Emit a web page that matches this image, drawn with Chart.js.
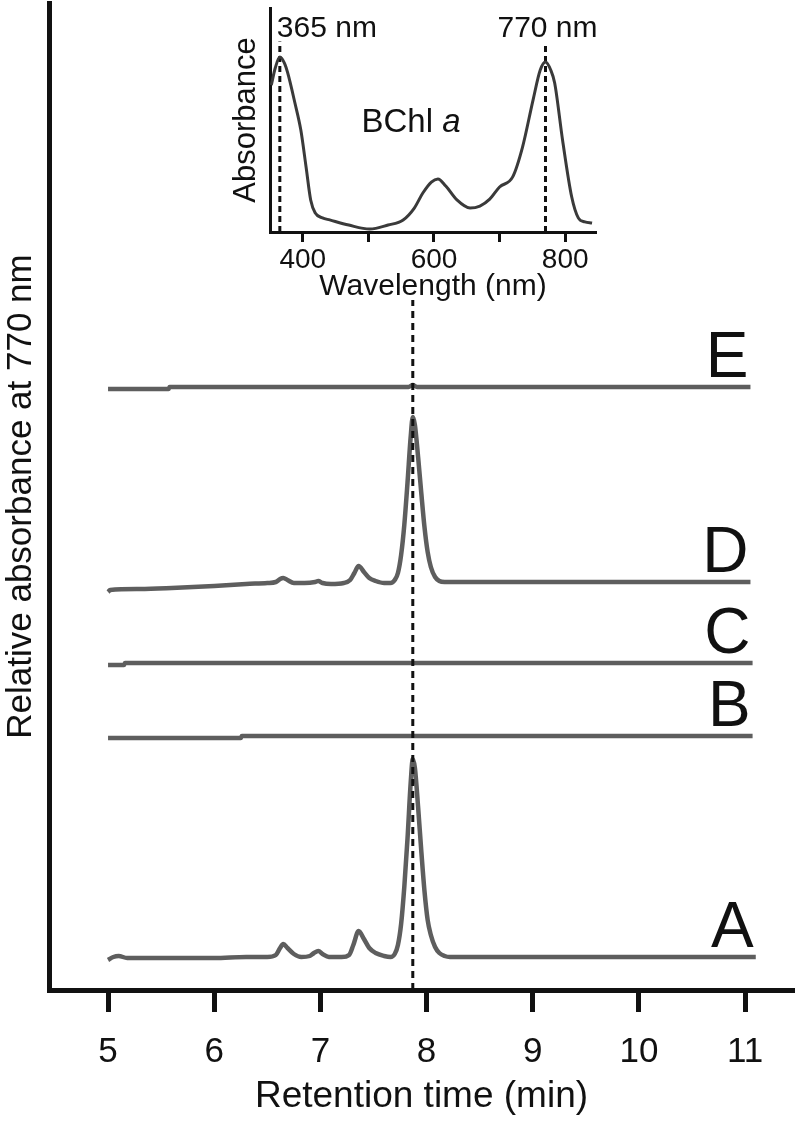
<!DOCTYPE html>
<html>
<head>
<meta charset="utf-8">
<script src="https://cdn.jsdelivr.net/npm/chart.js@4.4.1/dist/chart.umd.min.js"></script>
<style>
  html, body { margin: 0; padding: 0; background: #fff; }
  #wrap { position: relative; width: 800px; height: 1121px; }
  #main { position: absolute; left: 0; top: 0; }
  #inset { position: absolute; left: 200px; top: 0; }
</style>
</head>
<body>
<div id="wrap">
  <canvas id="main" width="800" height="1121"></canvas>
  <canvas id="inset" width="420" height="310"></canvas>
</div>
<script>
// HPLC traces, relative absorbance at 770 nm (arbitrary units)
const timeTicks = [5, 6, 7, 8, 9, 10, 11];
const peakTime = 7.87;

const timeA = [5.0, 5.05, 5.1, 5.18, 5.6, 6.0, 6.3, 6.5, 6.58, 6.62, 6.65, 6.69, 6.75, 6.82, 6.9, 6.94, 6.98, 7.02, 7.08, 7.2,
  7.27, 7.31, 7.36, 7.41, 7.46, 7.52, 7.6, 7.66, 7.7, 7.73, 7.76, 7.79, 7.82, 7.85, 7.87, 7.89, 7.92, 7.95, 7.98, 8.01,
  8.04, 8.08, 8.12, 8.17, 8.22, 8.5, 9.5, 10.5, 11.1];
const absA = [30, 33, 34, 32, 32, 32, 33, 33, 35, 42, 46, 42, 36, 33, 34, 37, 39, 36, 33, 33,
  35, 45, 59, 51, 42, 37, 34, 33, 36, 45, 66, 103, 151, 207, 231, 222, 183, 139, 99, 70,
  55, 43, 37, 34, 33, 33, 33, 33, 33];

const timeB = [5.0, 6.25, 6.26, 11.07];
const absB = [252, 252, 254, 254];

const timeC = [5.0, 5.15, 5.16, 11.07];
const absC = [325, 325, 327, 327];

const timeD = [5.0, 5.02, 5.3, 5.6, 6.0, 6.3, 6.5, 6.58, 6.62, 6.65, 6.69, 6.75, 6.85, 6.95, 6.98, 7.02, 7.1, 7.22,
  7.28, 7.32, 7.36, 7.41, 7.46, 7.52, 7.6, 7.66, 7.7, 7.73, 7.76, 7.79, 7.82, 7.85, 7.87, 7.89, 7.92, 7.95, 7.98,
  8.01, 8.04, 8.08, 8.12, 8.17, 8.22, 8.5, 9.5, 10.5, 11.05];
const absD = [398, 400, 401, 402, 404, 406, 407, 408, 411, 412, 410, 407, 407, 408, 409, 407, 406, 407,
  410, 417, 424, 418, 412, 409, 407, 407, 410, 417, 435, 465, 507, 553, 573, 565, 533, 497, 463,
  438, 423, 413, 409, 408, 408, 408, 408, 408, 408];

const timeE = [5.0, 5.57, 5.58, 7.83, 7.87, 7.91, 11.05];
const absE = [601, 601, 603, 603, 605, 603, 603];

// inset: BChl a absorption spectrum
const waveNm = [352, 358, 365, 372, 377, 388, 397, 405, 412, 419, 430, 441, 470, 502, 530, 553, 570, 583, 596,
  606, 618, 635, 655, 670, 685, 700, 720, 735, 751, 762, 770, 778, 784, 796, 810, 820, 830, 841];
const absSpec = [0.656, 0.732, 0.781, 0.754, 0.710, 0.576, 0.455, 0.290, 0.143, 0.085, 0.063, 0.054, 0.031, 0.013,
  0.031, 0.054, 0.107, 0.174, 0.223, 0.237, 0.205, 0.143, 0.107, 0.116, 0.147, 0.201, 0.246, 0.379, 0.589, 0.723,
  0.759, 0.723, 0.665, 0.411, 0.156, 0.063, 0.045, 0.040];
const waveTicks = [400, 500, 600, 700, 800];
const waveLabels = [400, 600, 800];
const markerNm = [365, 770];
const markerText = ['365 nm', '770 nm'];

const fam = "'Liberation Sans', Arial, Helvetica, sans-serif";
const ink = '#111';
const traceColor = '#5e5e5e';
Chart.defaults.color = ink;

function pts(xs, ys) {
  return xs.map((x, i) => ({x: x, y: ys[i]}));
}

function trace(name, xs, ys) {
  return {
    traceName: name,
    data: pts(xs, ys),
    borderColor: traceColor,
    borderWidth: 4.5,
    pointRadius: 0,
    cubicInterpolationMode: 'monotone',
    order: 1
  };
}

// letter next to the right end of each trace
const traceLabels = {
  id: 'traceLabels',
  afterDatasetsDraw(chart) {
    const ctx = chart.ctx;
    ctx.save();
    ctx.font = '64px ' + fam;
    ctx.fillStyle = ink;
    ctx.textAlign = 'right';
    ctx.textBaseline = 'alphabetic';
    chart.data.datasets.forEach((ds, i) => {
      if (!ds.traceName) return;
      const els = chart.getDatasetMeta(i).data;
      const last = els[els.length - 1];
      ctx.fillText(ds.traceName, last.x - 2, last.y - 10);
    });
    ctx.restore();
  }
};

new Chart(document.getElementById('main'), {
  type: 'line',
  data: {
    datasets: [
      {
        data: [{x: peakTime, y: 0}, {x: peakTime, y: 690}],
        borderColor: ink, borderWidth: 3, borderDash: [7, 5], pointRadius: 0, order: 0
      },
      trace('A', timeA, absA),
      trace('B', timeB, absB),
      trace('C', timeC, absC),
      trace('D', timeD, absD),
      trace('E', timeE, absE)
    ]
  },
  options: {
    responsive: false,
    animation: false,
    devicePixelRatio: 1,
    layout: {padding: {top: 3, right: 6, bottom: 0, left: 0}},
    plugins: {legend: {display: false}, tooltip: {enabled: false}},
    scales: {
      x: {
        type: 'linear', min: 4.444, max: 11.46,
        afterBuildTicks: s => { s.ticks = timeTicks.map(v => ({value: v})); },
        afterFit: s => { s.height = 131; },
        grid: {display: true, drawOnChartArea: false, drawTicks: true, tickLength: 22, tickWidth: 5, tickColor: ink},
        border: {display: true, width: 5, color: ink},
        ticks: {font: {family: fam, size: 35}, padding: 19, maxRotation: 0, color: ink},
        title: {display: true, text: 'Retention time (min)', font: {family: fam, size: 37}, color: ink,
          padding: {top: 0, bottom: 2}}
      },
      y: {
        min: 0, max: 987,
        afterFit: s => { s.width = 49; },
        grid: {display: false},
        border: {display: true, width: 5, color: ink},
        ticks: {display: false},
        title: {display: true, text: 'Relative absorbance at 770 nm', font: {family: fam, size: 35}, color: ink,
          padding: {top: 0, bottom: 0}}
      }
    }
  },
  plugins: [traceLabels]
});

// inset texts: marker labels and compound name
const insetText = {
  id: 'insetText',
  afterDatasetsDraw(chart) {
    const ctx = chart.ctx;
    const xs = chart.scales.x, ys = chart.scales.y;
    const top = chart.chartArea.top;
    ctx.save();
    ctx.fillStyle = ink;
    ctx.textBaseline = 'alphabetic';
    ctx.font = '30px ' + fam;
    ctx.textAlign = 'left';
    ctx.fillText(markerText[0], xs.getPixelForValue(markerNm[0]) - 3, top + 29);
    ctx.textAlign = 'center';
    ctx.fillText(markerText[1], xs.getPixelForValue(markerNm[1]) + 2, top + 29);

    const cx = xs.getPixelForValue(565), by = ys.getPixelForValue(0.446);
    ctx.font = '33px ' + fam;
    const w1 = ctx.measureText('BChl ').width;
    ctx.font = 'italic 33px ' + fam;
    const w2 = ctx.measureText('a').width;
    const x0 = cx - (w1 + w2) / 2;
    ctx.textAlign = 'left';
    ctx.font = '33px ' + fam;
    ctx.fillText('BChl ', x0, by);
    ctx.font = 'italic 33px ' + fam;
    ctx.fillText('a', x0 + w1, by);
    ctx.restore();
  }
};

new Chart(document.getElementById('inset'), {
  type: 'line',
  data: {
    datasets: [
      {
        data: pts(waveNm, absSpec),
        borderColor: '#3a3a3a', borderWidth: 3, pointRadius: 0, cubicInterpolationMode: 'monotone'
      },
      {
        data: [{x: markerNm[0], y: 0}, {x: markerNm[0], y: 0.85}],
        borderColor: ink, borderWidth: 3, borderDash: [6, 4], pointRadius: 0
      },
      {
        data: [{x: markerNm[1], y: 0}, {x: markerNm[1], y: 0.83}],
        borderColor: ink, borderWidth: 3, borderDash: [6, 4], pointRadius: 0
      }
    ]
  },
  options: {
    responsive: false,
    animation: false,
    devicePixelRatio: 1,
    layout: {padding: {top: 8, right: 24, bottom: 0, left: 0}},
    plugins: {legend: {display: false}, tooltip: {enabled: false}},
    scales: {
      x: {
        type: 'linear', min: 350, max: 847,
        afterBuildTicks: s => { s.ticks = waveTicks.map(v => ({value: v})); },
        afterFit: s => { s.height = 78; },
        grid: {display: true, drawOnChartArea: false, drawTicks: true, tickLength: 10, tickWidth: 3, tickColor: ink},
        border: {display: true, width: 3, color: ink},
        ticks: {
          font: {family: fam, size: 28}, padding: 1, maxRotation: 0, color: ink,
          callback: v => waveLabels.includes(v) ? String(v) : ''
        },
        title: {display: true, text: 'Wavelength (nm)', font: {family: fam, size: 30}, color: ink,
          padding: {top: 0, bottom: 5}}
      },
      y: {
        min: 0, max: 1,
        afterFit: s => { s.width = 70; },
        grid: {display: false},
        border: {display: true, width: 3, color: ink},
        ticks: {display: false},
        title: {display: true, text: 'Absorbance', font: {family: fam, size: 31}, color: ink,
          padding: {top: 28, bottom: 0}}
      }
    }
  },
  plugins: [insetText]
});
</script>
</body>
</html>
